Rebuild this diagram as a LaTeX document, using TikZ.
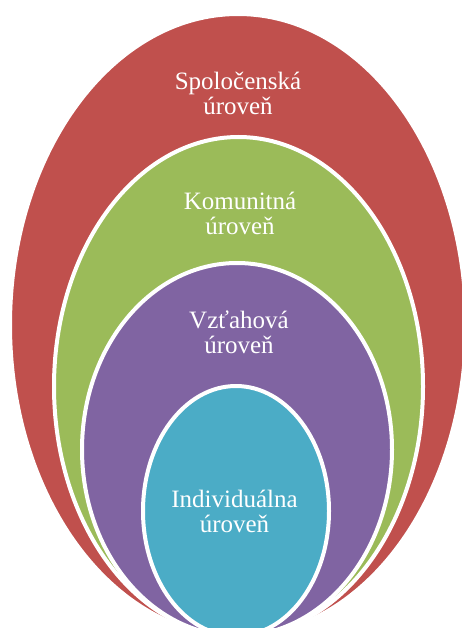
\documentclass[tikz,border=0pt]{standalone}
\usepackage{fontspec}
\setmainfont{Liberation Serif}
\definecolor{spolred}{HTML}{C0504D}
\definecolor{komgreen}{HTML}{9BBB59}
\definecolor{vztpurple}{HTML}{8064A2}
\definecolor{indcyan}{HTML}{4BACC6}

\tikzset{
	ring/.style={draw=white, line width=4pt},
	lvltext/.style={text=white, align=center, font=\fontsize{25}{25}\selectfont, inner sep=0pt}
}

\begin{document}
\begin{tikzpicture}[x=1pt,y=-1pt]
			\useasboundingbox (0,0) rectangle (462,628);
			\clip (0,0) rectangle (462,628);
			
			\draw [ring, fill=spolred] (238,325) ellipse [x radius=228, y radius=311];
			\draw [ring, fill=komgreen] (238.5,386.5) ellipse [x radius=184.5, y radius=249.5];
			\draw [ring, fill=vztpurple] (237,449.5) ellipse [x radius=155, y radius=186.5];
			\draw [ring, fill=indcyan] (236,511) ellipse [x radius=93, y radius=125];
			
			\node [lvltext] (spol) at (238,93){Spoločenská\\úroveň};
			\node [lvltext] (kom) at (240,213){Komunitná\\úroveň};
			\node [lvltext] (vzt) at (239,332){Vzťahová\\úroveň};
			\node [lvltext] (ind) at (234.5,511){Individuálna\\úroveň};
\end{tikzpicture}
\end{document}
